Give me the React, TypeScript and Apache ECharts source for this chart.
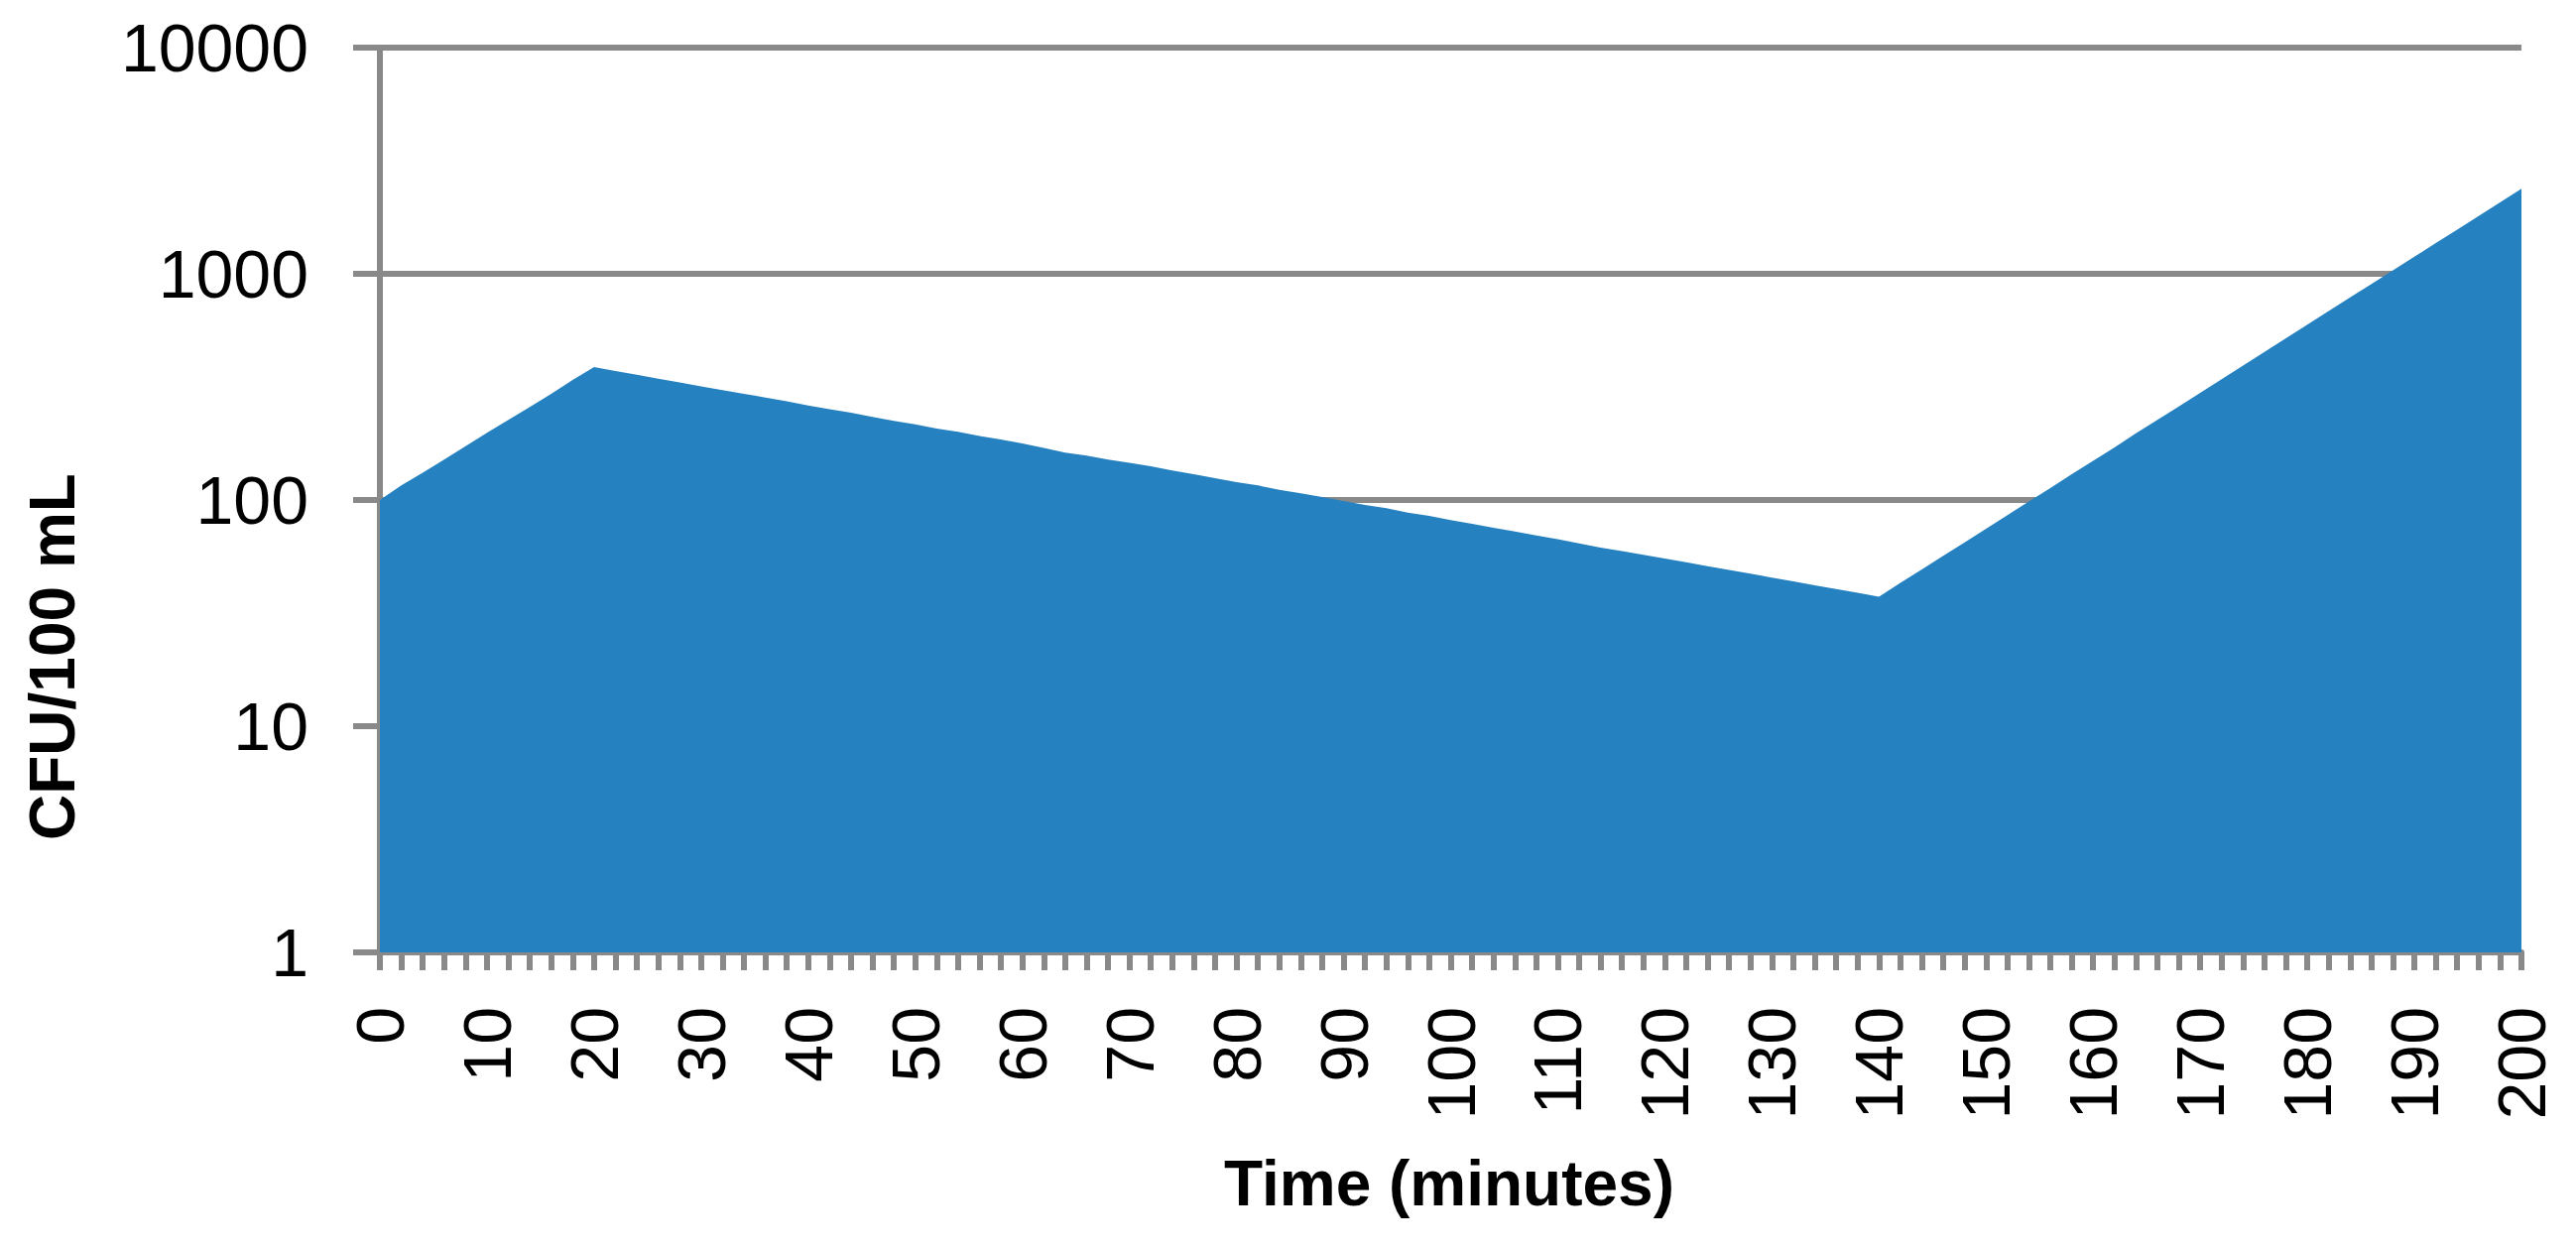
import React, { useEffect, useRef } from "react";
import * as echarts from "echarts";

const minutes = [
  "0", "2", "4", "6", "8", "10", "12", "14", "16", "18",
  "20", "22", "24", "26", "28", "30", "32", "34", "36", "38",
  "40", "42", "44", "46", "48", "50", "52", "54", "56", "58",
  "60", "62", "64", "66", "68", "70", "72", "74", "76", "78",
  "80", "82", "84", "86", "88", "90", "92", "94", "96", "98",
  "100", "102", "104", "106", "108", "110", "112", "114", "116", "118",
  "120", "122", "124", "126", "128", "130", "132", "134", "136", "138",
  "140", "142", "144", "146", "148", "150", "152", "154", "156", "158",
  "160", "162", "164", "166", "168", "170", "172", "174", "176", "178",
  "180", "182", "184", "186", "188", "190", "192", "194", "196", "198",
  "200",
];

const cfuRise1 = [100, 116, 132, 151, 173, 198, 226, 258, 295, 339];
const cfuDecline = [
  387, 372, 358, 344, 331, 318, 306, 295, 284, 273,
  262, 252, 243, 233, 224, 216, 207, 200, 192, 185,
  178, 170, 162, 157, 151, 146, 141, 135, 130, 125,
  120, 116, 111, 107, 103, 99, 95, 92, 88, 85,
  81.5, 78.4, 75.4, 72.5, 69.7, 67.1, 64.3, 61.6, 59.4, 57.2,
  55.1, 53.0, 51.0, 49.1, 47.2, 45.4, 43.7, 42.0, 40.4, 38.9,
];
const cfuRise2 = [
  37.4, 43.0, 49.3, 56.6, 65.0, 74.7, 85.8, 98.5, 113, 130,
  149, 171, 197, 226, 259, 298, 342, 393, 452, 519,
  596, 684, 786, 902, 1036, 1189, 1366, 1569, 1802, 2069,
  2377,
];
const cfu = [...cfuRise1, ...cfuDecline, ...cfuRise2];

const yTicks = [1, 10, 100, 1000, 10000];

const GRAY = "#898989";
const FONT = "Liberation Sans";

export default function App() {
  const ref = useRef<HTMLDivElement>(null);
  useEffect(() => {
    document.body.style.margin = "0";
    const chart = echarts.init(ref.current!, null, { renderer: "svg" });
    chart.setOption({
      animation: false,
      backgroundColor: "#ffffff",
      grid: { left: 383, right: 55, top: 48, bottom: 300, containLabel: false },
      xAxis: {
        type: "category",
        data: minutes,
        boundaryGap: false,
        axisLine: { show: true, lineStyle: { color: GRAY, width: 6 } },
        axisTick: {
          show: true,
          interval: 0,
          length: 18,
          lineStyle: { color: GRAY, width: 6 },
        },
        axisLabel: {
          interval: 4,
          rotate: 90,
          margin: 55,
          fontFamily: FONT,
          fontSize: 68,
          color: "#000000",
        },
        splitLine: { show: false },
      },
      yAxis: {
        type: "log",
        logBase: 10,
        min: yTicks[0],
        max: yTicks[yTicks.length - 1],
        splitNumber: 4,
        axisLine: { show: true, lineStyle: { color: GRAY, width: 6 } },
        axisTick: {
          show: true,
          length: 27,
          lineStyle: { color: GRAY, width: 6 },
        },
        axisLabel: {
          margin: 72,
          fontFamily: FONT,
          fontSize: 68,
          color: "#000000",
          formatter: (v: number) => String(Math.round(v)),
        },
        splitLine: { show: true, lineStyle: { color: GRAY, width: 6 } },
      },
      graphic: [
        {
          type: "text",
          x: 53,
          y: 662,
          rotation: Math.PI / 2,
          style: {
            text: "CFU/100 mL",
            fontFamily: FONT,
            fontSize: 64,
            fontWeight: "bold",
            fill: "#000000",
            align: "center",
            verticalAlign: "middle",
          },
        },
        {
          type: "text",
          x: 1461,
          y: 1193,
          style: {
            text: "Time (minutes)",
            fontFamily: FONT,
            fontSize: 64,
            fontWeight: "bold",
            fill: "#000000",
            align: "center",
            verticalAlign: "middle",
          },
        },
      ],
      series: [
        {
          type: "line",
          data: cfu,
          symbol: "none",
          lineStyle: { width: 0 },
          areaStyle: { color: "#2581C0", opacity: 1 },
          z: 1,
        },
      ],
    });
    return () => chart.dispose();
  }, []);
  return <div ref={ref} style={{ width: 2597, height: 1260 }} />;
}
